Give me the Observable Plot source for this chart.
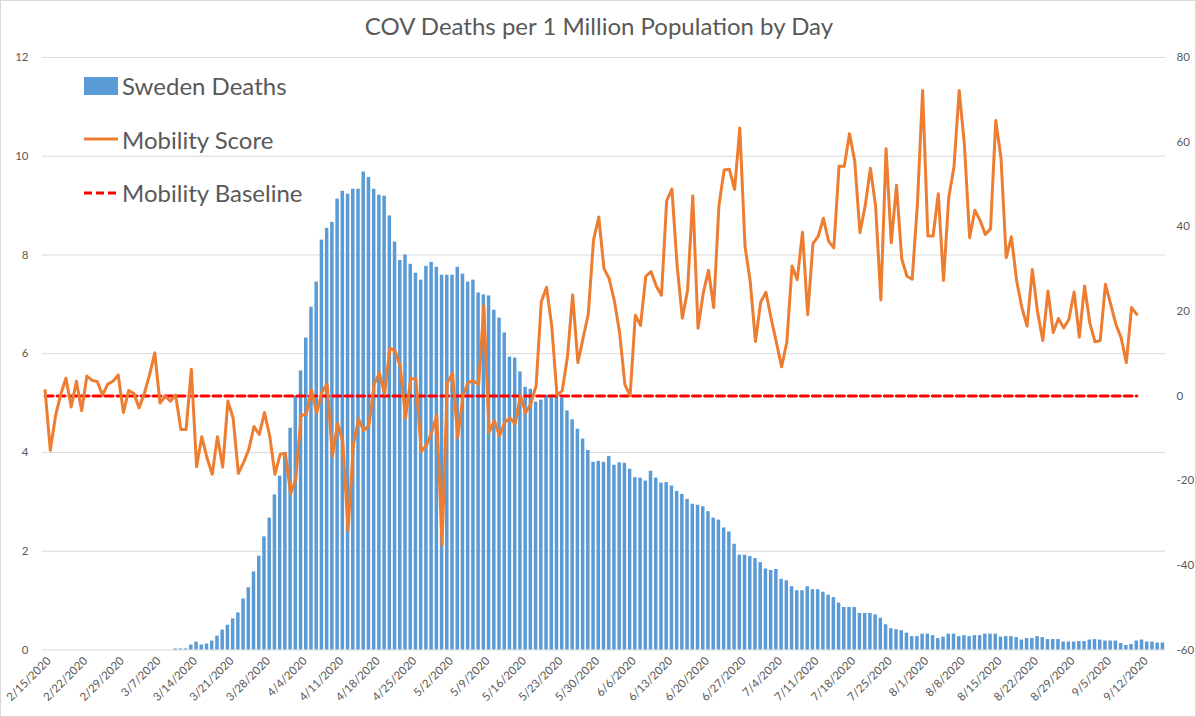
<!DOCTYPE html>
<html>
<head>
<meta charset="utf-8">
<script src="https://cdn.jsdelivr.net/npm/d3@7"></script>
<script src="https://cdn.jsdelivr.net/npm/@observablehq/plot@0.6"></script>
<style>
  body { margin: 0; background: #fff; }
  #wrap { position: relative; width: 1196px; height: 717px; box-sizing: border-box; border: 1px solid #d9d9d9; overflow: hidden; font-family: Lato, "Open Sans", sans-serif; }
  #chart { position: absolute; left: -1px; top: -1px; }
  #title { position: absolute; top: 10px; left: 0; width: 1196px; text-align: center; font-size: 24px; color: #595959; }
  #legend { position: absolute; left: 83px; top: 58px; }
  .item { display: flex; align-items: center; height: 53.5px; font-size: 24px; color: #595959; }
  .item svg { margin-right: 4px; }
</style>
</head>
<body>
<div id="wrap">
  <div id="chart"></div>
  <div id="title">COV Deaths per 1 Million Population by Day</div>
  <div id="legend"></div>
</div>
<script>
// Categories: one per day, 2/15/2020 .. 9/16/2020
const startDay = new Date(Date.UTC(2020, 1, 15));
const endDay = new Date(Date.UTC(2020, 8, 17));
const fmt = d3.utcFormat("%-m/%-d/%Y");
const dates = d3.utcDays(startDay, endDay).map(fmt);

// Sweden deaths per 1M population (left axis)
const deaths = [
  0,0,0,0,0,0,0,0,0,0, 0,0,0,0,0,0,0,0,0,0, 0,0,0,0,0,
  0.02,0.02,0.02,0.10,0.16,0.10,0.12,0.18,0.28,0.40,
  0.50,0.63,0.75,1.03,1.26,1.58,1.90,2.29,2.67,3.14,
  3.52,4.00,4.49,5.14,5.65,6.32,6.94,7.45,8.30,8.54,
  8.66,9.13,9.29,9.23,9.33,9.33,9.68,9.57,9.33,9.21,
  9.19,8.79,8.26,7.89,8.00,7.81,7.63,7.49,7.77,7.85,
  7.75,7.59,7.59,7.59,7.75,7.61,7.45,7.49,7.23,7.19,
  7.17,6.88,6.72,6.42,5.93,5.91,5.63,5.32,5.28,5.02,
  5.06,5.16,5.16,5.16,5.10,4.84,4.66,4.47,4.27,4.04,
  3.80,3.82,3.80,3.92,3.74,3.79,3.78,3.66,3.49,3.48,
  3.42,3.62,3.48,3.38,3.39,3.32,3.21,3.15,3.05,2.95,
  2.93,2.90,2.80,2.67,2.63,2.47,2.39,2.14,1.92,1.92,
  1.89,1.85,1.77,1.64,1.61,1.63,1.43,1.40,1.28,1.20,
  1.20,1.28,1.22,1.22,1.17,1.11,1.06,0.95,0.86,0.86,
  0.86,0.74,0.74,0.74,0.71,0.64,0.51,0.43,0.41,0.39,
  0.34,0.27,0.27,0.32,0.32,0.29,0.23,0.26,0.32,0.32,
  0.27,0.29,0.27,0.29,0.29,0.32,0.32,0.32,0.26,0.27,
  0.27,0.25,0.20,0.23,0.23,0.27,0.25,0.21,0.21,0.21,
  0.16,0.16,0.16,0.17,0.17,0.20,0.21,0.20,0.18,0.18,
  0.18,0.13,0.09,0.11,0.18,0.20,0.16,0.16,0.14,0.14
];

// Mobility score (right axis), 2/15/2020 .. 9/11/2020
const mobility = [
  1.3,-12.8,-4.7,0.4,4.2,-2.6,3.5,-3.5,4.7,3.7,
  3.4,0.2,2.8,3.5,5.0,-3.9,1.3,0.6,-2.8,0.6,
  5.0,10.2,-1.7,0,-1.2,0.2,-7.9,-7.9,6.3,-16.7,
  -9.6,-14.6,-18.5,-9.6,-16.8,-1.2,-5.2,-18.3,-15.7,-12.6,
  -7.2,-9.1,-3.9,-9.4,-18.5,-13.8,-13.5,-23.1,-19.6,-4.6,
  -4.3,1.4,-4.0,0.9,2.8,-14.3,-6.5,-10.9,-31.8,-11.7,
  -5.4,-8.2,-6.9,2.8,5.4,0.5,11.3,10.7,6.9,-5.2,
  4.1,4.1,-13.1,-11.7,-8.6,-4.6,-35.2,3.1,5.4,-9.9,
  0.1,3.2,3.6,2.7,21.3,-8.6,-5.8,-9.4,-6.2,-5.2,
  -6.6,0.1,-4.0,-1.8,2.4,22.3,25.7,16.5,0.2,1.2,
  9.2,23.9,7.9,13.7,19.4,36.9,42.3,30.1,27.7,22.4,
  14.9,2.7,0.1,19.1,16.7,28.3,29.4,26.0,23.8,46.1,
  48.9,30.8,18.4,25.0,47.3,16.0,24.3,29.7,20.9,44.9,
  53.4,53.6,48.8,63.3,35.4,27.0,12.9,22.2,24.5,18.3,
  12.7,6.9,12.7,30.7,27.5,38.7,19.2,36.0,37.7,42.0,
  36.6,35.0,54.3,54.3,62.0,55.5,38.6,44.9,53.8,44.9,
  22.7,58.4,36.2,49.8,32.4,28.3,27.6,45.3,72.2,37.8,
  37.8,47.8,27.3,46.9,54.1,72.2,59.4,37.4,43.9,41.5,
  38.2,39.5,65.1,56.3,32.7,37.6,27.2,20.9,16.5,29.9,
  19.9,13.1,24.8,15.0,18.3,16.1,18.1,24.6,13.9,26.0,
  17.3,12.8,13.1,26.4,21.7,16.9,13.8,7.9,20.9,19.3
];

// Mobility baseline value
const baselineValue = 0;

// Tick labels
const tickLabels = ["2/15/2020","2/22/2020","2/29/2020","3/7/2020","3/14/2020","3/21/2020","3/28/2020",
  "4/4/2020","4/11/2020","4/18/2020","4/25/2020","5/2/2020","5/9/2020","5/16/2020","5/23/2020","5/30/2020",
  "6/6/2020","6/13/2020","6/20/2020","6/27/2020","7/4/2020","7/11/2020","7/18/2020","7/25/2020",
  "8/1/2020","8/8/2020","8/15/2020","8/22/2020","8/29/2020","9/5/2020","9/12/2020"];
const leftTicks = [0, 2, 4, 6, 8, 10, 12];
const rightTicks = [-60, -40, -20, 0, 20, 40, 60, 80];

// secondary axis mapping: right [-60, 80] onto left [0, 12]
const leftDomain = [0, 12];
const rightDomain = [-60, 80];
const toLeft = v => (v - rightDomain[0]) / (rightDomain[1] - rightDomain[0]) * (leftDomain[1] - leftDomain[0]) + leftDomain[0];
const toRight = v => (v - leftDomain[0]) / (leftDomain[1] - leftDomain[0]) * (rightDomain[1] - rightDomain[0]) + rightDomain[0];

const deathRows = dates.map((d, i) => ({date: d, deaths: deaths[i]}));
const mobRows = mobility.map((m, i) => ({date: dates[i], mobility: m, baseline: baselineValue}));

const textColor = "#595959";
const chart = Plot.plot({
  width: 1196,
  height: 717,
  marginTop: 57,
  marginBottom: 67,
  marginLeft: 42,
  marginRight: 30,
  style: {fontFamily: "Lato, 'Open Sans', sans-serif", background: "transparent", color: textColor},
  x: {type: "band", domain: dates, paddingInner: 0.33, paddingOuter: 0.165, axis: null},
  y: {domain: leftDomain, axis: null},
  marks: [
    Plot.gridY(leftTicks, {stroke: "#d9d9d9", strokeOpacity: 1, strokeWidth: 1}),
    Plot.barY(deathRows, {x: "date", y: "deaths", fill: "#5B9BD5"}),
    Plot.lineY(mobRows, {x: "date", y: d => toLeft(d.baseline), stroke: "#FF0000", strokeWidth: 3, strokeDasharray: "8,4"}),
    Plot.lineY(mobRows, {x: "date", y: d => toLeft(d.mobility), stroke: "#ED7D31", strokeWidth: 3, strokeLinejoin: "round"}),
    Plot.axisX({ticks: tickLabels, tickRotate: -45, tickSize: 0, tickPadding: 9, dx: 4, fontSize: 11.5, color: textColor, label: null}),
    Plot.axisY(leftTicks, {anchor: "left", tickSize: 0, tickPadding: 14, fontSize: 11.5, color: textColor, label: null}),
    Plot.axisY(rightTicks.map(toLeft), {anchor: "right", tickSize: 0, tickPadding: 11, fontSize: 11.5, color: textColor, label: null,
      tickFormat: d => String(Math.round(toRight(d)))})
  ]
});
document.getElementById("chart").appendChild(chart);

// Legend
const legendItems = [
  {label: "Sweden Deaths", kind: "bar", color: "#5B9BD5"},
  {label: "Mobility Score", kind: "line", color: "#ED7D31"},
  {label: "Mobility Baseline", kind: "dash", color: "#FF0000"}
];
const legend = document.getElementById("legend");
for (const it of legendItems) {
  const div = document.createElement("div");
  div.className = "item";
  let sw;
  if (it.kind === "bar") sw = `<svg width="34" height="20"><rect x="0" y="1" width="34" height="18" fill="${it.color}"/></svg>`;
  else if (it.kind === "line") sw = `<svg width="34" height="20"><line x1="0" x2="34" y1="10" y2="10" stroke="${it.color}" stroke-width="3"/></svg>`;
  else sw = `<svg width="34" height="20"><line x1="0" x2="34" y1="10" y2="10" stroke="${it.color}" stroke-width="3" stroke-dasharray="8,4"/></svg>`;
  div.innerHTML = sw + `<span>${it.label}</span>`;
  legend.appendChild(div);
}
</script>
</body>
</html>
